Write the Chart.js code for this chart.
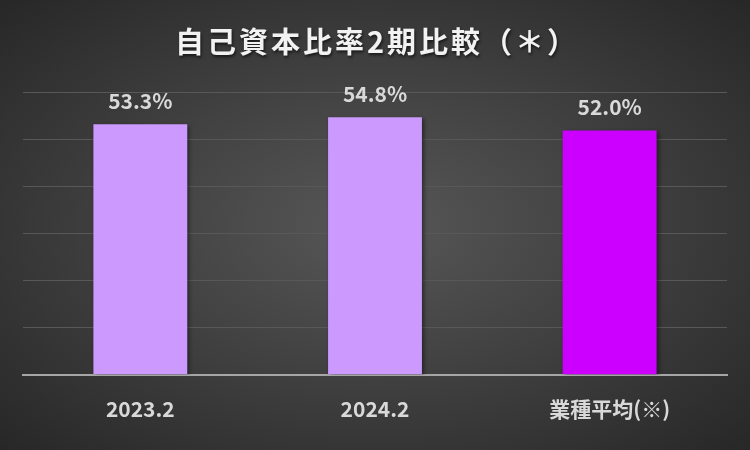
<!DOCTYPE html>
<html>
<head>
<meta charset="utf-8">
<script src="https://cdn.jsdelivr.net/npm/chart.js@4/dist/chart.umd.min.js"></script>
<style>
  html, body { margin: 0; padding: 0; }
  body {
    width: 750px; height: 450px; overflow: hidden;
    background: radial-gradient(ellipse at 50% 50%, #575757 0%, #3d3d3d 55%, #272727 100%);
  }
  #wrap { width: 750px; height: 450px; }
</style>
</head>
<body>
<div id="wrap"><canvas id="grafico"></canvas></div>
<script>
// datos
const categorias = ['2023.2', '2024.2', '業種平均(※)']
const valores = [53.3, 54.8, 52.0]
const colores = ['#cc99ff', '#cc99ff', '#cc00ff']
const titulo = '自己資本比率2期比較（＊）'

const FUENTE = "'Noto Sans CJK JP', sans-serif"

// sombra de barras
const sombra = {
  id: 'sombra',
  beforeDatasetsDraw(chart) {
    const ctx = chart.ctx
    ctx.save()
    ctx.shadowColor = 'rgba(0,0,0,0.45)'
    ctx.shadowBlur = 4
    ctx.shadowOffsetX = 2
    ctx.shadowOffsetY = 2
  },
  afterDatasetsDraw(chart) {
    chart.ctx.restore()
  }
}

// etiquetas de valor
const etiquetas = {
  id: 'etiquetas',
  afterDatasetsDraw(chart) {
    const ctx = chart.ctx
    const meta = chart.getDatasetMeta(0)
    ctx.save()
    ctx.font = "bold 21px " + FUENTE
    ctx.fillStyle = '#d9d9d9'
    ctx.textAlign = 'center'
    ctx.textBaseline = 'alphabetic'
    meta.data.forEach((bar, i) => {
      ctx.fillText(valores[i].toFixed(1) + '%', bar.x, bar.y - 15)
    })
    ctx.restore()
  }
}

// titulo con espaciado y sombra (el titulo de Chart.js solo reserva el espacio)
const tituloPlugin = {
  id: 'tituloPlugin',
  afterDraw(chart) {
    const ctx = chart.ctx
    const t = chart.titleBlock
    ctx.save()
    ctx.font = "bold 29px " + FUENTE
    ctx.letterSpacing = '3px'
    ctx.fillStyle = '#f2f2f2'
    ctx.textAlign = 'center'
    ctx.textBaseline = 'middle'
    ctx.shadowColor = 'rgba(0,0,0,0.6)'
    ctx.shadowBlur = 3
    ctx.shadowOffsetX = 1
    ctx.shadowOffsetY = 2
    ctx.fillText(titulo, chart.width / 2 + 2, t.top + 25 + 29 * 1.2 / 2)
    ctx.restore()
  }
}

const chart = new Chart(document.getElementById('grafico'), {
  type: 'bar',
  data: {
    labels: categorias,
    datasets: [{
      data: valores,
      backgroundColor: colores,
      barPercentage: 0.4,
      categoryPercentage: 1
    }]
  },
  options: {
    responsive: true,
    maintainAspectRatio: false,
    animation: false,
    layout: { padding: { left: 23, right: 23, top: 0, bottom: 6 } },
    plugins: {
      legend: { display: false },
      tooltip: { enabled: false },
      title: {
        display: true,
        text: titulo,
        color: 'rgba(0,0,0,0)',
        font: { size: 29, weight: 'bold', family: FUENTE },
        padding: { top: 25, bottom: 33 }
      }
    },
    scales: {
      x: {
        grid: { display: false, drawTicks: false },
        border: { display: true, color: '#a6a6a6', width: 2 },
        ticks: {
          color: '#d9d9d9',
          padding: 22,
          font: { size: 21, weight: 'bold', family: FUENTE }
        }
      },
      y: {
        min: 0,
        max: 60,
        ticks: { stepSize: 10, display: false },
        grid: { color: '#585858', lineWidth: 1, drawTicks: false },
        border: { display: false }
      }
    }
  },
  plugins: [sombra, etiquetas, tituloPlugin]
})
</script>
</body>
</html>
